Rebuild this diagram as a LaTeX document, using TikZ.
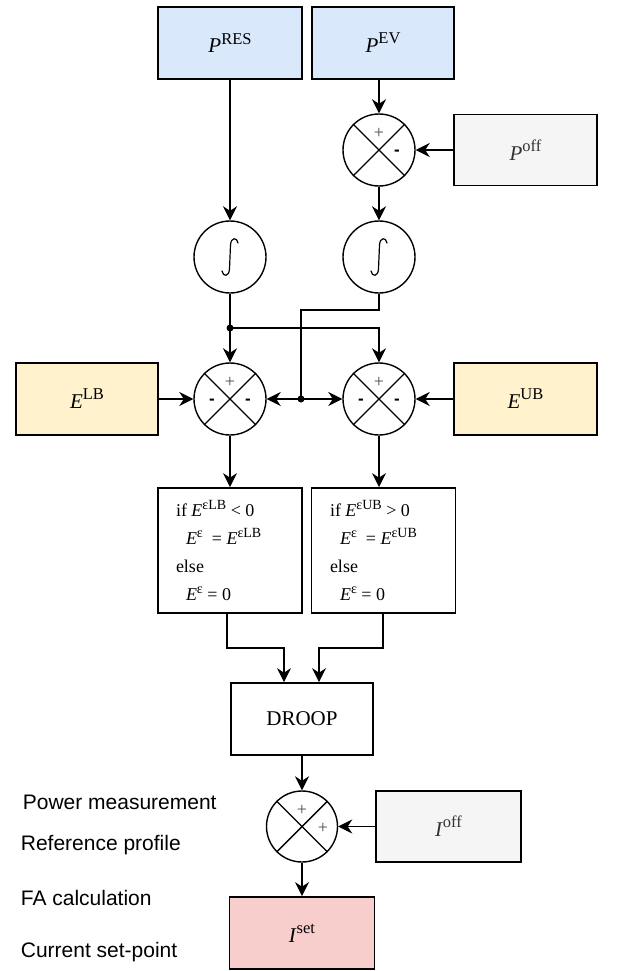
\documentclass[tikz,border=0pt]{standalone}
\usepackage{fontspec}
\setmainfont{Liberation Serif}
\setsansfont{Liberation Sans}
\usetikzlibrary{arrows.meta,calc}
\definecolor{cblue}{HTML}{DAE8FC}
\definecolor{cyel}{HTML}{FFF2CC}
\definecolor{cgray}{HTML}{F5F5F5}
\definecolor{cgtext}{HTML}{333333}
\definecolor{cred}{HTML}{F8CECC}
\newcommand\supx[2][16.5]{\raisebox{0.42em}{\fontsize{#1}{#1}\selectfont #2}}
\begin{document}
\begin{tikzpicture}[x=1pt,y=-1pt, line width=1.7pt,
  >={Stealth[length=14pt,width=14pt,inset=4.5pt]},
  box/.style={draw, line width=1.7pt, minimum width=144pt, minimum height=72pt, inner sep=0pt, font=\fontsize{21}{21}\selectfont},
  ifbox/.style={draw, line width=1.7pt, minimum width=144pt, minimum height=125pt, inner ysep=0pt, inner xsep=18pt, text width=108pt, align=flush left, font=\fontsize{18}{28}\selectfont},
  sumc/.style={draw, circle, line width=1.4pt, minimum size=72pt, inner sep=0pt},
  intpath/.style={line width=1.2pt, line cap=round},
  pls/.style={font=\fontsize{18}{18}\selectfont, text=black!70, inner sep=0pt},
  mns/.style={font=\sffamily\bfseries\fontsize{17}{17}\selectfont, inner sep=0pt},
  dotn/.style={circle, fill, inner sep=0pt, minimum size=7pt},
  conn/.style={->, line width=1.7pt},
  side/.style={font=\sffamily\fontsize{21}{21}\selectfont, anchor=west, inner sep=0pt}]
\useasboundingbox (0,0) rectangle (616,971);
\fill[white] (0,0) rectangle (616,971);

% top boxes
\node[box, fill=cblue] (pres) at (230,43) {\textit{P}\supx{RES}};
\node[box, fill=cblue, minimum width=142pt] (pev) at (383,43) {\textit{P}\supx{EV}};
\node[sumc] (s1) at (379,150) {};
\node[box, fill=cgray, text=cgtext, minimum width=143pt, minimum height=71pt] (poff) at (525.5,150) {\textit{P}\supx{off}};
% integrators
\node[sumc] (i1) at (230,257) {};
\node[sumc] (i2) at (379,257) {};
\foreach \n in {i1,i2} {
  \draw[intpath] ($(\n)+(8,-14)$) .. controls ($(\n)+(7,-20)$) and ($(\n)+(1,-20)$) .. ($(\n)+(0.5,-12)$)
     -- ($(\n)+(-0.5,12)$) .. controls ($(\n)+(-1,20)$) and ($(\n)+(-7,20)$) .. ($(\n)+(-8,14)$);
}
% error sums
\node[sumc] (slb) at (230,399) {};
\node[sumc] (sub) at (379,399) {};
\node[box, fill=cyel, minimum width=142pt] (elb) at (87,399) {\textit{E}\supx{LB}};
\node[box, fill=cyel, minimum width=143pt] (eub) at (525.5,399) {\textit{E}\supx{UB}};
% if boxes
\node[ifbox] (if1) at (230,550.5) {if \textit{E}\supx[14]{εLB} < 0\\
\hspace*{10pt}\textit{E}\supx[14]{ε}\ \ = \textit{E}\supx[14]{εLB}\\
else\\
\hspace*{10pt}\textit{E}\supx[14]{ε} = 0};
\node[ifbox, text width=107pt] (if2) at (383.5,550.5) {if \textit{E}\supx[14]{εUB} > 0\\
\hspace*{10pt}\textit{E}\supx[14]{ε}\ \ = \textit{E}\supx[14]{εUB}\\
else\\
\hspace*{10pt}\textit{E}\supx[14]{ε} = 0};
% droop and output
\node[box, minimum width=142pt] (droop) at (302,719) {DROOP};
\node[sumc, minimum size=71pt] (s3) at (302,826.5) {};
\node[box, fill=cgray, text=cgtext, minimum width=145pt, minimum height=71pt] (ioff) at (448.5,826.5) {\textit{I}\supx{off}};
\node[box, fill=cred, minimum width=145pt] (iset) at (302,933) {\textit{I}\supx{set}};

% crosses
\foreach \n in {s1,slb,sub,s3} {
  \draw[line width=1.4pt] (\n.north west) -- (\n.south east) (\n.north east) -- (\n.south west);
}
% signs
\node[pls] (s1p) at ($(s1)+(0,-17)$) {+};
\node[mns] (s1m) at ($(s1)+(18,3)$) {-};
\node[pls] (slbp) at ($(slb)+(0,-17)$) {+};
\node[mns] (slbl) at ($(slb)+(-18,3)$) {-};
\node[mns] (slbr) at ($(slb)+(18,3)$) {-};
\node[pls] (subp) at ($(sub)+(0,-17)$) {+};
\node[mns] (subl) at ($(sub)+(-18,3)$) {-};
\node[mns] (subr) at ($(sub)+(18,3)$) {-};
\node[pls] (s3p) at ($(s3)+(0,-16)$) {+};
\node[pls] (s3r) at ($(s3)+(21,2)$) {+};

% side labels
\node[side] (t1) at (22,802) {Power measurement};
\node[side] (t2) at (20,845) {Reference profile};
\node[side] (t3) at (20,898) {FA calculation};
\node[side] (t4) at (20,952) {Current set-point};

% connectors
\draw[conn] (pres) -- (i1);
\draw[conn] (pev.south -| s1) -- (s1);
\draw[conn] (poff) -- (s1);
\draw[conn] (s1) -- (i2);
\draw[conn] (i1) -- (slb);
\node[dotn] (d1) at (230,328) {};
\draw[conn] (d1.center) -| (sub.north);
\coordinate (k1) at (301,310);
\node[dotn] (d2) at (301,399) {};
\draw (i2.south) -- (i2.south |- k1) -- (k1) -- (d2.center);
\draw[conn] (d2.center) -- (slb.east);
\draw[conn] (d2.center) -- (sub.west);
\draw[conn] (elb) -- (slb);
\draw[conn] (eub) -- (sub);
\draw[conn] (slb) -- (if1);
\draw[conn] (sub.south) -- (sub.south |- if2.north);
\coordinate (j1) at (227,648);
\coordinate (j2) at (383,648);
\draw[conn] (if1.south -| j1) -- (j1) -| ([xshift=-18pt]droop.north);
\draw[conn] (if2.south -| j2) -- (j2) -| ([xshift=17pt]droop.north);
\draw[conn] (droop) -- (s3);
\draw[conn] (ioff) -- (s3);
\draw[conn] (s3) -- (iset);
\end{tikzpicture}
\end{document}
